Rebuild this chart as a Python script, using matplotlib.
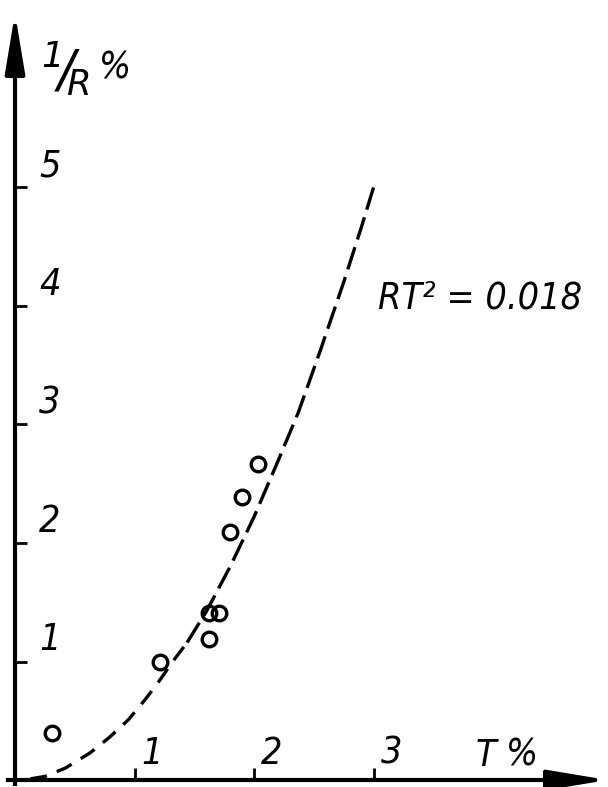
import matplotlib
matplotlib.use('Agg')
import matplotlib.pyplot as plt
from matplotlib import font_manager

# measured points (T %, 1/R %)
t_points = [0.31, 1.21, 1.62, 1.71, 1.62, 1.80, 1.90, 2.03]
r_points = [0.40, 1.00, 1.41, 1.41, 1.19, 2.09, 2.39, 2.67]

# dashed curve RT^2 = 0.018
t_curve = [0.13, 0.25, 0.42, 0.63, 0.79, 0.95, 1.09, 1.21, 1.32, 1.44, 1.6,
           1.8, 2.0, 2.2, 2.37, 2.55, 2.75, 2.9, 3.0]
r_curve = [0.01, 0.03, 0.10, 0.23, 0.36, 0.51, 0.68, 0.84, 1.0, 1.16, 1.42,
           1.80, 2.22, 2.69, 3.10, 3.61, 4.20, 4.67, 5.0]

x_ticks = [1, 2, 3]
y_ticks = [1, 2, 3, 4, 5]

# pick a narrow italic face if one is installed
installed = {(f.name, f.style, f.stretch) for f in font_manager.fontManager.ttflist}
names = {f.name for f in font_manager.fontManager.ttflist}
stretch = 'normal'
if 'Liberation Sans Narrow' in names:
    family = 'Liberation Sans Narrow'
    size = 30
elif any(n == 'DejaVu Sans' and s == 'condensed' for n, st, s in installed):
    family = 'DejaVu Sans'
    stretch = 'condensed'
    size = 27
else:
    family = 'Liberation Sans'
    size = 28
plt.rcParams['font.family'] = [family, 'DejaVu Sans']
plt.rcParams['mathtext.fontset'] = 'custom'
plt.rcParams['mathtext.it'] = family + ':italic'
plt.rcParams['mathtext.rm'] = family + ':italic'
txt = dict(style='italic', stretch=stretch, ha='center', va='center')

fig = plt.figure(figsize=(6.08, 7.87), dpi=100)
ax = fig.add_axes([0, 0, 1, 1])
ax.set_xlim(-0.1255, 4.962)
ax.set_ylim(-0.059, 6.582)

# axes drawn through the origin
for side in ['top', 'right']:
    ax.spines[side].set_visible(False)
ax.spines['left'].set_position(('data', 0))
ax.spines['bottom'].set_position(('data', 0))
ax.spines['left'].set_bounds(-0.03, 6.2)
ax.spines['bottom'].set_bounds(-0.06, 4.7)
ax.spines['left'].set_linewidth(3)
ax.spines['bottom'].set_linewidth(3)

arrow = dict(arrowstyle='-|>,head_length=1.8,head_width=0.3', lw=3, color='black',
             shrinkA=0, shrinkB=0, mutation_scale=20)
ax.annotate('', xy=(0, 6.47), xytext=(0, 6.0), arrowprops=arrow)
ax.annotate('', xy=(4.96, 0), xytext=(4.6, 0), arrowprops=arrow)

ax.set_xticks(x_ticks)
ax.set_yticks(y_ticks)
ax.tick_params(direction='in', length=8.5, width=2, labelbottom=False, labelleft=False)

for v in x_ticks:
    ax.text(v + 0.15, 0.22, str(v), fontsize=size, **txt)
for v in y_ticks:
    ax.text(0.29, v + 0.18, str(v), fontsize=size, **txt)

# curve: shorter dashes near the origin, longer ones higher up
ax.plot(t_curve[:10], r_curve[:10], color='black', lw=2.4, dashes=(5, 3.2))
ax.plot(t_curve[9:], r_curve[9:], color='black', lw=2.4, dashes=(7, 2.4))
ax.plot(t_points, r_points, 'o', ms=10.5, mfc='none', mec='black', mew=2.4)

# axis titles
ax.text(0.42, 6.0, r'$^{1}\!/\!_{R}$', fontsize=size * 1.35, ha='center', va='center')
ax.text(0.84, 6.0, '%', fontsize=size, **txt)
ax.text(3.94, 0.20, 'T', fontsize=size, **txt)
ax.text(4.24, 0.21, '%', fontsize=size, **txt)

ax.text(3.89, 4.06, 'RT² = 0.018', fontsize=size, **txt)

fig.savefig('out.png', dpi=100)
